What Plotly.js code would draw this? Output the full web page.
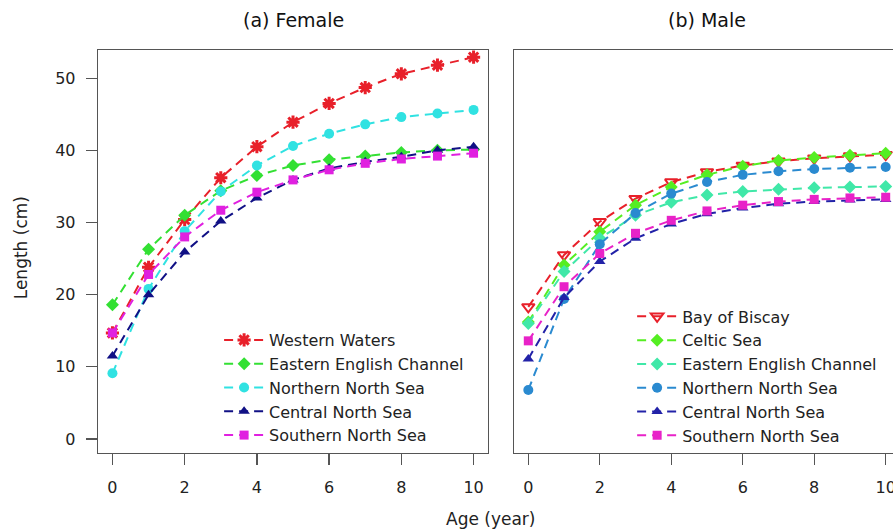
<!DOCTYPE html>
<html>
<head>
<meta charset="utf-8">
<script src="https://cdn.plot.ly/plotly-3.0.1.min.js"></script>
<style>
html,body{margin:0;padding:0;overflow:hidden;background:#fff;}
#chart{width:915px;height:530px;}
</style>
</head>
<body>
<div id="chart"></div>
<script>
// ---- data ----
const ages = [0,1,2,3,4,5,6,7,8,9,10];

const femaleNames = ["Western Waters","Eastern English Channel","Northern North Sea","Central North Sea","Southern North Sea"];
const femaleWesternWaters   = [14.7,23.8,30.4,36.2,40.5,43.9,46.5,48.7,50.6,51.8,52.9];
const femaleEasternChannel  = [18.6,26.3,31.0,34.4,36.5,37.9,38.7,39.2,39.7,40.0,40.1];
const femaleNorthernNorth   = [9.1,20.8,28.8,34.3,37.9,40.6,42.3,43.6,44.6,45.1,45.6];
const femaleCentralNorth    = [11.5,20.0,25.9,30.2,33.4,35.9,37.5,38.4,39.1,40.0,40.5];
const femaleSouthernNorth   = [14.7,22.8,28.0,31.7,34.2,35.9,37.3,38.2,38.8,39.2,39.6];

const maleNames = ["Bay of Biscay","Celtic Sea","Eastern English Channel","Northern North Sea","Central North Sea","Southern North Sea"];
const maleBayOfBiscay      = [18.3,25.5,30.1,33.3,35.6,37.0,37.9,38.5,38.9,39.2,39.4];
const maleCelticSea        = [16.2,24.1,28.7,32.4,34.9,36.6,37.8,38.6,39.0,39.3,39.6];
const maleEasternChannel   = [16.0,23.2,27.8,31.0,32.8,33.8,34.3,34.6,34.8,34.9,35.0];
const maleNorthernNorth    = [6.8,19.4,27.0,31.3,34.0,35.6,36.6,37.1,37.4,37.6,37.7];
const maleCentralNorth     = [11.1,19.6,24.6,27.8,29.8,31.2,32.0,32.6,32.9,33.1,33.2];
const maleSouthernNorth    = [13.6,21.1,25.7,28.5,30.3,31.6,32.4,32.9,33.2,33.4,33.5];

const xTicks = [0,2,4,6,8,10];
const yTicks = [0,10,20,30,40,50];

// ---- styles ----
const FONT = "DejaVu Sans, Liberation Sans, Arial, sans-serif";
const dashPat = "9px,6px";

function tr(name, y, color, symbol, xa, ya, leg, opts){
  opts = opts || {};
  return {
    x: ages, y: y, name: name, type: "scatter", mode: "lines+markers",
    xaxis: xa, yaxis: ya, legend: leg,
    line: {color: color, width: 2, dash: dashPat},
    marker: Object.assign({symbol: symbol, size: 10, color: color,
      line: {color: color, width: opts.lw || 0}}, opts.marker || {}),
    hoverinfo: "x+y+name"
  };
}

const data = [
  tr(femaleNames[0], femaleWesternWaters, "#e8202a", "asterisk-open", "x", "y", "legend", {lw: 3, marker:{size: 11}}),
  tr(femaleNames[1], femaleEasternChannel, "#33e033", "diamond", "x", "y", "legend"),
  tr(femaleNames[2], femaleNorthernNorth, "#30e2e2", "circle", "x", "y", "legend"),
  tr(femaleNames[3], femaleCentralNorth, "#101085", "triangle-up", "x", "y", "legend"),
  tr(femaleNames[4], femaleSouthernNorth, "#e020e0", "square", "x", "y", "legend", {marker:{size: 9}}),

  tr(maleNames[0], maleBayOfBiscay, "#e8202a", "triangle-down-open", "x2", "y2", "legend2", {lw: 2, marker:{size: 11}}),
  tr(maleNames[1], maleCelticSea, "#55ee22", "diamond", "x2", "y2", "legend2"),
  tr(maleNames[2], maleEasternChannel, "#40e8a8", "diamond", "x2", "y2", "legend2"),
  tr(maleNames[3], maleNorthernNorth, "#2a8ad0", "circle", "x2", "y2", "legend2"),
  tr(maleNames[4], maleCentralNorth, "#2222a8", "triangle-up", "x2", "y2", "legend2"),
  tr(maleNames[5], maleSouthernNorth, "#e822c8", "square", "x2", "y2", "legend2", {marker:{size: 9}})
];

const axisCommon = {
  showline: true, mirror: true, linecolor: "#555", linewidth: 1.3,
  showgrid: false, zeroline: false,
  ticks: "outside", ticklen: 11, tickcolor: "#555", tickwidth: 1.3,
  tickfont: {family: FONT, size: 16, color: "#222"}
};

const layout = {
  width: 915, height: 530,
  margin: {l: 98, r: 15, t: 50, b: 77},
  paper_bgcolor: "#fff", plot_bgcolor: "#fff",
  font: {family: FONT, color: "#222"},
  xaxis: Object.assign({}, axisCommon, {domain: [0, 0.4863], range: [-0.4, 10.4],
    tickvals: xTicks, ticktext: xTicks.map(String), ticklabelstandoff: 8}),
  yaxis: Object.assign({}, axisCommon, {domain: [0, 1], range: [-1.94, 53.9],
    tickvals: yTicks, ticktext: yTicks.map(String), ticklabelstandoff: 7}),
  xaxis2: Object.assign({}, axisCommon, {domain: [0.5187, 1], range: [-0.4, 10.4], anchor: "y2",
    tickvals: xTicks, ticktext: xTicks.map(String), ticklabelstandoff: 8}),
  yaxis2: Object.assign({}, axisCommon, {domain: [0, 1], range: [-1.94, 53.9], anchor: "x2",
    ticks: "", showticklabels: false}),
  legend: {x: 0.151, y: 0.3226, xanchor: "left", yanchor: "top", bgcolor: "rgba(0,0,0,0)",
    font: {family: FONT, size: 16, color: "#222"}, itemwidth: 40, tracegroupgap: 0},
  legend2: {x: 0.666, y: 0.381, xanchor: "left", yanchor: "top", bgcolor: "rgba(0,0,0,0)",
    font: {family: FONT, size: 16, color: "#222"}, itemwidth: 40, tracegroupgap: 0},
  annotations: [
    {text: "(a) Female", xref: "paper", yref: "paper", x: 0.2432, y: 1.074, showarrow: false,
     xanchor: "center", yanchor: "middle", font: {family: FONT, size: 19, color: "#111"}},
    {text: "(b) Male", xref: "paper", yref: "paper", x: 0.759, y: 1.074, showarrow: false,
     xanchor: "center", yanchor: "middle", font: {family: FONT, size: 19, color: "#111"}},
    {text: "Age (year)", xref: "paper", yref: "paper", x: 0.489, y: -0.164, showarrow: false,
     xanchor: "center", yanchor: "middle", font: {family: FONT, size: 17, color: "#222"}},
    {text: "Length (cm)", xref: "paper", yref: "paper", x: -0.095, y: 0.51, showarrow: false,
     textangle: -90, xanchor: "center", yanchor: "middle", font: {family: FONT, size: 17, color: "#222"}}
  ],
  showlegend: true
};

Plotly.newPlot("chart", data, layout, {displayModeBar: false, staticPlot: true});
</script>
</body>
</html>
